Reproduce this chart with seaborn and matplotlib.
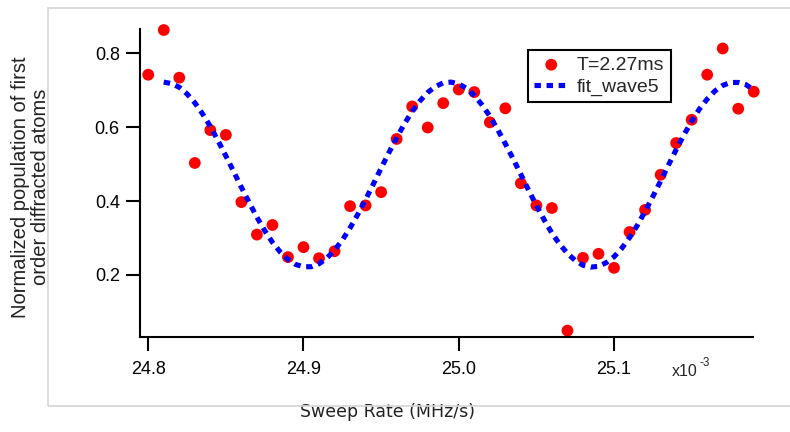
import matplotlib
matplotlib.use("Agg")
import matplotlib.pyplot as plt
from matplotlib.patches import Rectangle
import numpy as np
import pandas as pd
import seaborn as sns

# ---- data ----
sweep_rate = [24.80, 24.81, 24.82, 24.83, 24.84, 24.85, 24.86, 24.87, 24.88, 24.89,
              24.90, 24.91, 24.92, 24.93, 24.94, 24.95, 24.96, 24.97, 24.98, 24.99,
              25.00, 25.01, 25.02, 25.03, 25.04, 25.05, 25.06, 25.07, 25.08, 25.09,
              25.10, 25.11, 25.12, 25.13, 25.14, 25.15, 25.16, 25.17, 25.18, 25.19]
population = [0.742, 0.863, 0.734, 0.503, 0.592, 0.579, 0.397, 0.309, 0.335, 0.248,
              0.275, 0.245, 0.264, 0.386, 0.388, 0.424, 0.568, 0.656, 0.599, 0.665,
              0.702, 0.695, 0.613, 0.651, 0.448, 0.388, 0.381, 0.049, 0.246, 0.257,
              0.219, 0.316, 0.376, 0.471, 0.557, 0.620, 0.742, 0.813, 0.650, 0.696]

fit_x = [24.810, 24.815, 24.820, 24.825, 24.830, 24.835, 24.840, 24.845, 24.850, 24.855,
         24.860, 24.865, 24.870, 24.875, 24.880, 24.885, 24.890, 24.895, 24.900, 24.905,
         24.910, 24.915, 24.920, 24.925, 24.930, 24.935, 24.940, 24.945, 24.950, 24.955,
         24.960, 24.965, 24.970, 24.975, 24.980, 24.985, 24.990, 24.995, 25.000, 25.005,
         25.010, 25.015, 25.020, 25.025, 25.030, 25.035, 25.040, 25.045, 25.050, 25.055,
         25.060, 25.065, 25.070, 25.075, 25.080, 25.085, 25.090, 25.095, 25.100, 25.105,
         25.110, 25.115, 25.120, 25.125, 25.130, 25.135, 25.140, 25.145, 25.150, 25.155,
         25.160, 25.165, 25.170, 25.175, 25.180, 25.185, 25.190]
fit_y = [0.722, 0.718, 0.708, 0.690, 0.666, 0.636, 0.602, 0.563, 0.522, 0.480,
         0.437, 0.396, 0.356, 0.320, 0.288, 0.262, 0.242, 0.228, 0.222, 0.222,
         0.230, 0.245, 0.267, 0.294, 0.327, 0.364, 0.404, 0.446, 0.489, 0.531,
         0.571, 0.609, 0.643, 0.671, 0.694, 0.710, 0.720, 0.722, 0.717, 0.705,
         0.686, 0.660, 0.630, 0.594, 0.555, 0.514, 0.472, 0.429, 0.388, 0.349,
         0.313, 0.283, 0.258, 0.239, 0.226, 0.221, 0.223, 0.233, 0.249, 0.272,
         0.301, 0.334, 0.372, 0.412, 0.454, 0.497, 0.539, 0.579, 0.616, 0.649,
         0.676, 0.698, 0.713, 0.721, 0.721, 0.715, 0.701]

x_ticks = [24.8, 24.9, 25.0, 25.1]
x_tick_labels = ["24.8", "24.9", "25.0", "25.1"]
y_ticks = [0.2, 0.4, 0.6, 0.8]
y_tick_labels = ["0.2", "0.4", "0.6", "0.8"]

series_label = "T=2.27ms"
fit_label = "fit_wave5"

df_points = pd.DataFrame({"x": sweep_rate, "y": population})
df_fit = pd.DataFrame({"x": fit_x, "y": fit_y})

# ---- style ----
sns.set_theme(style="ticks")
plt.rcParams["font.family"] = ["Liberation Sans", "DejaVu Sans"]

W, H = 790, 432
fig = plt.figure(figsize=(W / 100, H / 100), dpi=100)
ax = fig.add_axes([140 / W, 1 - 336.7 / H, (753.3 - 140) / W, (336.7 - 29.3) / H])

sns.scatterplot(data=df_points, x="x", y="y", ax=ax, color="#ff0000", s=72,
                edgecolor="none", linewidth=0, label=series_label, zorder=2,
                clip_on=False)
sns.lineplot(data=df_fit, x="x", y="y", ax=ax, color="#0000ff", lw=3.7,
             linestyle=(0, (1.25, 1.1)), dash_capstyle="butt", label=fit_label,
             zorder=3, sort=False, clip_on=False)

ax.set_xlim(24.7947, 25.1897)
ax.set_ylim(0.0325, 0.865)
ax.set_xticks(x_ticks)
ax.set_xticklabels(x_tick_labels)
ax.set_yticks(y_ticks)
ax.set_yticklabels(y_tick_labels)

sns.despine(ax=ax)
for side in ("left", "bottom"):
    ax.spines[side].set_linewidth(1.5)
    ax.spines[side].set_color("black")
ax.tick_params(axis="both", direction="out", length=10, width=1.5, colors="black",
               labelsize=13)
ax.tick_params(axis="x", pad=7.5)
ax.tick_params(axis="y", pad=4.5)

ax.set_xlabel("Sweep Rate (MHz/s)", fontsize=12.5, family=["DejaVu Sans"],
              color="#222222", va="center", ha="center")
ax.xaxis.set_label_coords(388 / W, 1 - 412 / H, transform=fig.transFigure)

ax.set_ylabel("Normalized population of first\norder diffracted atoms", fontsize=14.5,
              color="#222222", va="center", ha="center", linespacing=1.1,
              multialignment="center")
ax.yaxis.set_label_coords(30.5 / W, 1 - 187 / H, transform=fig.transFigure)

leg = ax.legend(loc="upper left", bbox_to_anchor=((528 - 140) / (753.3 - 140),
                                                  (336.7 - 50) / (336.7 - 29.3)),
                borderaxespad=0, frameon=True, fancybox=False, fontsize=14,
                handlelength=1.75, handletextpad=0.45, labelspacing=0.2,
                borderpad=0.32, scatterpoints=1, markerscale=1.0)
leg.get_frame().set_edgecolor("black")
leg.get_frame().set_linewidth(1.5)
leg.get_frame().set_alpha(1)

# axis multiplier
fig.text(671.5 / W, 1 - 371 / H, "x10", fontsize=11.5, va="center", ha="left")
fig.text(699 / W, 1 - 362.5 / H, "-3", fontsize=8.5, va="center", ha="left")

# light frame around the plot area
frame = Rectangle((48 / W, 1 - 406 / H), (W + 10 - 48) / W, (406 - 8) / H,
                  transform=fig.transFigure, fill=False, edgecolor="#d6d6d6",
                  linewidth=1.2, clip_on=False)
fig.add_artist(frame)

fig.savefig("out.png", dpi=100)
